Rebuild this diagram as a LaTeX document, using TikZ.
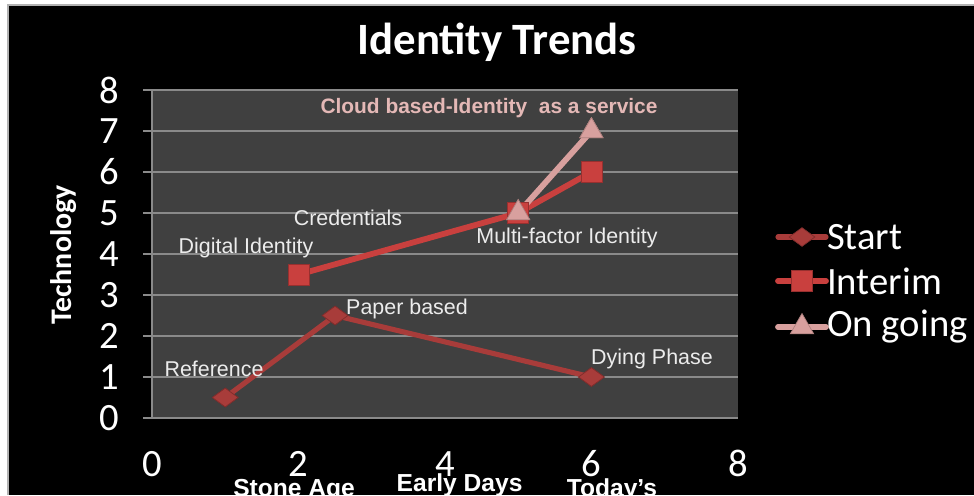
\documentclass[tikz,border=0pt]{standalone}
\usepackage{fontspec}
\setmainfont{Liberation Sans}
\newfontfamily\calfont{Carlito}
\usetikzlibrary{shapes.geometric}

\definecolor{plotgray}{HTML}{404040}
\definecolor{gridgray}{HTML}{8A8A8A}
\definecolor{startred}{HTML}{A83C3A}
\definecolor{interimred}{HTML}{C9403E}
\definecolor{goingpink}{HTML}{D8A09E}
\definecolor{cloudpink}{HTML}{E4B8B6}
\definecolor{labelwhite}{HTML}{ECECEC}

\begin{document}
\begin{tikzpicture}[x=0.02cm,y=-0.02cm,
	start_node/.style={diamond,fill=startred,draw=startred!75!black,inner sep=0pt,minimum width=0.52cm,minimum height=0.38cm},
	interim_node/.style={rectangle,fill=interimred,draw=interimred!75!black,inner sep=0pt,minimum size=0.42cm},
	going_node/.style={regular polygon,regular polygon sides=3,fill=goingpink,draw=goingpink!80!black,inner sep=0pt,minimum size=0.54cm},
	start_line/.style={startred,line width=2.9pt},
	interim_line/.style={interimred,line width=3.3pt},
	going_line/.style={goingpink,line width=3.3pt},
	data_label/.style={text=labelwhite,font=\fontsize{12.2}{13}\selectfont},
	tick_label/.style={text=white,inner sep=0pt,font=\calfont\fontsize{22}{24}\selectfont},
	cat_label/.style={text=white,inner sep=0pt,font=\bfseries\fontsize{14}{15}\selectfont},
	legend_label/.style={text=white,font=\calfont\fontsize{22}{24}\selectfont,anchor=west}]

		\useasboundingbox (0,0) rectangle (974,495);
		\fill[white] (0,0) rectangle (974,495);
		\fill[black] (8,5) rectangle (974,495);
		\draw[gray!60,line width=0.6pt] (8,495) -- (8,5) -- (974,5);

		% title and axis title
		\node[text=white,font=\calfont\bfseries\fontsize{25.5}{28}\selectfont] (title) at (497,42) {Identity Trends};
		\node[text=white,font=\calfont\bfseries\fontsize{17}{19}\selectfont,rotate=90] (ytitle) at (64,255) {Technology};

		\begin{scope}[shift={(152,418)},x=1.465cm,y=0.82cm]
		\fill[plotgray] (0,0) rectangle (8,8);
		\foreach \k in {0,...,8} {
			\draw[gridgray,line width=1pt] (-0.12,\k) -- (8,\k);
			\node[tick_label,anchor=east] (y\k) at (-0.45,\k) {\k};
		}
		\draw[gridgray,line width=1pt] (0,0) -- (0,8);
		\foreach \k in {0,2,4,6,8}
			\node[tick_label] (x\k) at (\k,-1.12) {\k};

		\node[cat_label] (stone) at (1.94,-1.77) {Stone Age};
		\node[cat_label] (early) at (4.2,-1.64) {Early Days};
		\node[cat_label] (today) at (6.28,-1.77) {Today’s};

		% series
		\node[start_node] (s1) at (1,0.5) {};
		\node[start_node] (s2) at (2.5,2.5) {};
		\node[start_node] (s3) at (6,1) {};
		\node[interim_node] (i1) at (2,3.5) {};
		\node[interim_node] (i2) at (5,5) {};
		\node[interim_node] (i3) at (6,6) {};
		\node[going_node] (g1) at (5,5) {};
		\node[going_node] (g2) at (6,7) {};

		\draw[start_line] (s1.center) -- (s2.center) -- (s3.center);
		\draw[interim_line] (i1.center) -- (i2.center) -- (i3.center);
		\draw[going_line] (g1.center) -- (g2.center);
		\node[start_node] at (s1) {};
		\node[start_node] at (s2) {};
		\node[start_node] at (s3) {};
		\node[interim_node] at (i1) {};
		\node[interim_node] at (i2) {};
		\node[interim_node] at (i3) {};
		\node[going_node] at (g1) {};
		\node[going_node] at (g2) {};
		\end{scope}

		% point labels
		\node[text=cloudpink,font=\bfseries\fontsize{11.9}{12}\selectfont] (cloud) at (489,108) {Cloud based-Identity~ as a service};
		\node[data_label] (cred) at (348,218) {Credentials};
		\node[data_label] (digital) at (246,248) {Digital Identity};
		\node[data_label] (multi) at (567,238) {Multi-factor Identity};
		\node[data_label] (paper) at (407,309) {Paper based};
		\node[data_label] (ref) at (214,369) {Reference};
		\node[data_label] (dying) at (652,359) {Dying Phase};

		% legend
		\coordinate (la1) at (778,237); \coordinate (lb1) at (826,237);
		\coordinate (la2) at (778,281); \coordinate (lb2) at (826,281);
		\coordinate (la3) at (778,327); \coordinate (lb3) at (826,327);
		\draw[start_line,line cap=round] (la1) -- (lb1);
		\draw[interim_line,line cap=round] (la2) -- (lb2);
		\draw[going_line,line cap=round] (la3) -- (lb3);
		\node[start_node] (l1) at (802,237) {};
		\node[interim_node] (l2) at (802,281) {};
		\node[going_node] (l3) at (802,327) {};
		\node[legend_label] (lt1) at (821,237) {Start};
		\node[legend_label] (lt2) at (821,281) {Interim};
		\node[legend_label] (lt3) at (821,327) {On going};
\end{tikzpicture}
\end{document}
